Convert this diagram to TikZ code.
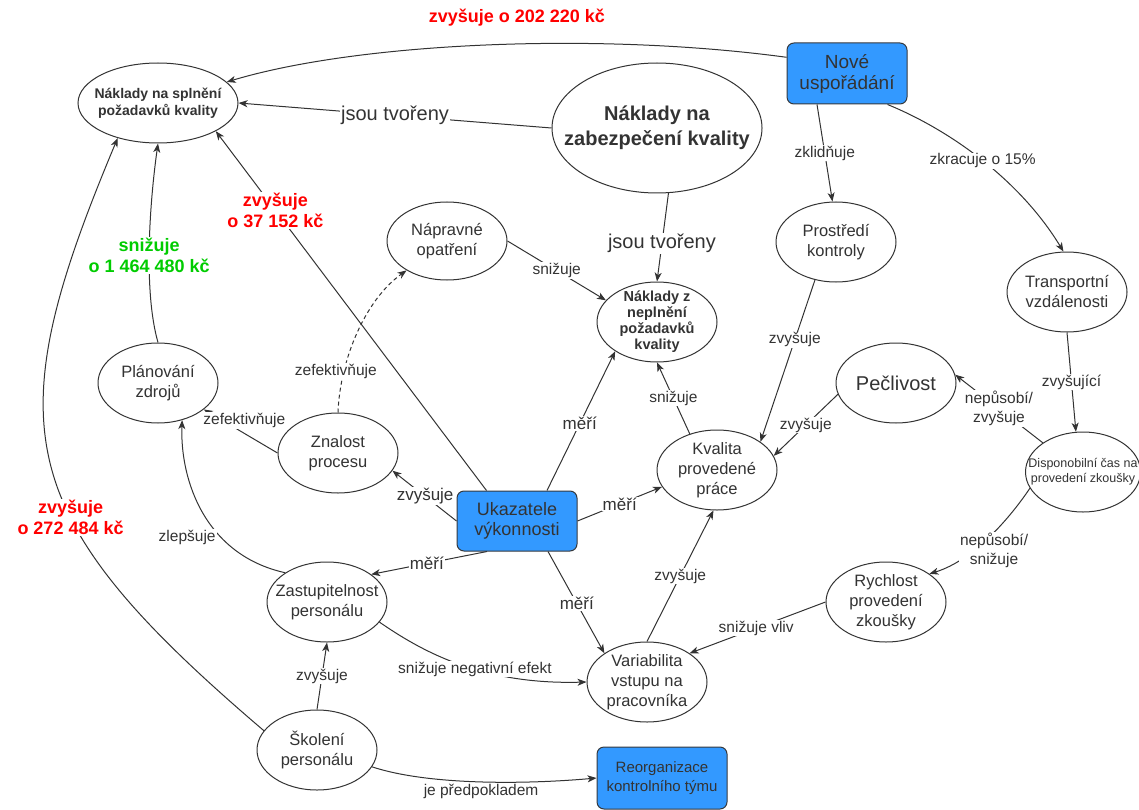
\documentclass[tikz,border=0pt]{standalone}
\usepackage{fontspec}
\setmainfont{Liberation Sans}
\usetikzlibrary{shapes.geometric,arrows.meta}
\definecolor{ink}{HTML}{333333}
\definecolor{boxblue}{HTML}{3399FF}
\definecolor{boxedge}{HTML}{36393D}
\definecolor{costred}{HTML}{FF0000}
\definecolor{costgreen}{HTML}{00CC00}
\newcommand{\fsz}[2]{\fontsize{#1}{#2}\selectfont}

\begin{document}
\begin{tikzpicture}[x=1pt,y=-1pt,
  every node/.style={text=ink, align=center},
  oval/.style={ellipse, draw=ink, line width=1pt, fill=white, inner sep=0pt,
               minimum width=120, minimum height=80},
  otxt/.style={font=\fsz{16.5}{20}},
  bluebox/.style={rectangle, rounded corners=7pt, draw=boxedge, line width=1pt,
                  fill=boxblue, inner sep=0pt},
  arr/.style={draw=ink, line width=1pt, -{Stealth[length=9pt,width=7pt,inset=2.5pt]}},
  lbl/.style={fill=white, inner sep=1pt, font=\fsz{15.5}{19}},
  lblbig/.style={fill=white, inner sep=1pt, font=\fsz{17}{20}},
  saylbl/.style={fill=white, inner sep=1pt, font=\fsz{20}{24}},
  costlbl/.style={fill=white, inner sep=1pt, font=\bfseries\fsz{18}{21}},
]
\useasboundingbox (0,0) rectangle (1139,810);

% ---------- cost nodes ----------
\node[oval, minimum width=160, minimum height=80,
      label={[font=\bfseries\fsz{14}{16.5}]center:{Náklady na splnění\\požadavků kvality}}] (nsp) at (158,103) {};
\node[oval, minimum width=210, minimum height=130,
      label={[font=\bfseries\fsz{20}{25}]center:{Náklady na\\zabezpečení kvality}}] (nzk) at (657,128) {};
\node[oval, label={[font=\bfseries\fsz{14.5}{16}]center:{Náklady z\\neplnění\\požadavků\\kvality}}] (nnp) at (657,322) {};

% ---------- factor nodes ----------
\node[oval, minimum height=78, label={[otxt]center:{Nápravné\\opatření}}] (napr) at (447,241) {};
\node[oval, label={[otxt]center:{Prostředí\\kontroly}}] (prost) at (836,242) {};
\node[oval, label={[otxt]center:{Transportní\\vzdálenosti}}] (trans) at (1067,292) {};
\node[oval, label={[font=\fsz{20}{24}]center:{Pečlivost}}] (pec) at (896,383) {};
\node[oval, minimum width=115, label={[font=\fsz{12.5}{15}]center:{Disponobilní čas na\\provedení zkoušky}}] (disp) at (1083,472) {};
\node[oval, label={[otxt]center:{Plánování\\zdrojů}}] (planz) at (158,383) {};
\node[oval, label={[otxt]center:{Znalost\\procesu}}] (znal) at (338,453) {};
\node[oval, label={[otxt]center:{Kvalita\\provedené\\práce}}] (kval) at (717,470) {};
\node[oval, label={[otxt]center:{Zastupitelnost\\personálu}}] (zast) at (327,602) {};
\node[oval, label={[otxt]center:{Rychlost\\provedení\\zkoušky}}] (rych) at (886,602) {};
\node[oval, label={[otxt]center:{Variabilita\\vstupu na\\pracovníka}}] (var) at (647,682) {};
\node[oval, label={[otxt]center:{Školení\\personálu}}] (skol) at (317,750) {};

% ---------- measures ----------
\node[bluebox, minimum width=120, minimum height=61, font=\fsz{19}{21}] (nove) at (847,73.5) {Nové\\uspořádání};
\node[bluebox, minimum width=120, minimum height=60, font=\fsz{18}{20}] (ukaz) at (517,521) {Ukazatele\\výkonnosti};
\node[bluebox, minimum width=130, minimum height=62, font=\fsz{15}{19}] (reorg) at (662,778) {Reorganizace\\kontrolního týmu};

% ---------- effects on cost of meeting quality requirements ----------
\draw[arr] (nove.165) .. controls (600,32) and (360,42) ..
  node[costlbl, text=costred, fill=none, pos=0.45, yshift=26] {zvyšuje o 202 220 kč} (nsp.17);
\draw[arr] (nzk.west) -- node[saylbl, pos=0.5] {jsou tvořeny} (nsp.east);
\draw[arr] ([xshift=30]ukaz.north west) --
  node[costlbl, text=costred, pos=0.78] {zvyšuje\\o 37 152 kč} (nsp.-26);
\draw[arr] (planz.north) .. controls (143,290) and (150,200) ..
  node[costlbl, text=costgreen, pos=0.45] {snižuje\\o 1 464 480 kč} (nsp.south);
\draw[arr] (skol.160) .. controls (11,515) and (-4,428) ..
  node[costlbl, text=costred, pos=0.39] {zvyšuje\\o 272 484 kč} (nsp.221);

% ---------- effects on cost of non-conformity ----------
\draw[arr] (nzk.-80) -- node[saylbl, pos=0.57] {jsou tvořeny} (nnp.north);
\draw[arr] (napr.east) -- node[lbl, pos=0.5] {snižuje} (nnp.157);
\draw[arr] ([xshift=30]ukaz.north) -- node[lblbig, pos=0.48] {měří} (nnp.215);
\draw[arr] (kval.127) -- node[lbl, pos=0.5] {snižuje} (nnp.south);

% ---------- process knowledge and planning ----------
\draw[arr, dash pattern=on 4pt off 3pt] (znal.north) .. controls (340,360) and (365,300) ..
  node[lbl, pos=0.3, xshift=-10, yshift=-7] {zefektivňuje} (napr.-144);
\draw[arr] (znal.west) -- node[lbl, pos=0.45, yshift=13] {zefektivňuje} (planz.-30);
\draw[arr] (ukaz.west) -- node[lblbig, pos=0.49] {zvyšuje} (znal.-18);
\draw[arr] (zast.145) .. controls (205,555) and (180,480) ..
  node[lbl, pos=0.3, xshift=-40, yshift=6] {zlepšuje} (planz.303);

% ---------- performance indicators ----------
\draw[arr] (ukaz.east) -- node[lblbig, pos=0.5] {měří} (kval.197);
\draw[arr] ([xshift=-30]ukaz.south) -- node[lblbig, pos=0.52] {měří} (zast.32);
\draw[arr] ([xshift=31]ukaz.south) -- node[lblbig, pos=0.51] {měří} (var.146);

% ---------- quality of the work ----------
\draw[arr] (prost.-119) -- node[lbl, pos=0.37] {zvyšuje} (kval.33);
\draw[arr] (pec.191) -- node[lbl, pos=0.5] {zvyšuje} (kval.14);
\draw[arr] (var.north) -- node[lbl, pos=0.5] {zvyšuje} (kval.265);

% ---------- new layout ----------
\draw[arr] ([xshift=-30]nove.south) -- node[lbl, pos=0.5] {zklidňuje} (prost.95);
\draw[arr] ([xshift=-20]nove.south east) .. controls (950,130) and (1020,180) ..
  node[lbl, pos=0.5] {zkracuje o 15\%} (trans.95);
\draw[arr] (trans.south) -- node[lbl, pos=0.5] {zvyšující} (disp.100);
\draw[arr] (disp.144) -- node[lbl, pos=0.5] {nepůsobí/\\zvyšuje} (pec.8);
\draw[arr] (disp.197) .. controls (1012,515) and (975,560) ..
  node[lbl, pos=0.5, xshift=4, yshift=-14] {nepůsobí/\\snižuje} (rych.33);
\draw[arr] (rych.west) -- node[lbl, pos=0.51] {snižuje vliv} (var.34);

% ---------- staff ----------
\draw[arr] (zast.-21) .. controls (420,650) and (480,685) ..
  node[lbl, pos=0.58] {snižuje negativní efekt} (var.west);
\draw[arr] (skol.north) -- node[lbl, pos=0.5] {zvyšuje} (zast.south);
\draw[arr] (skol.-17) .. controls (430,786) and (530,784) ..
  node[lbl, pos=0.5, anchor=north, yshift=-1] {je předpokladem} (reorg.west);
\end{tikzpicture}
\end{document}
